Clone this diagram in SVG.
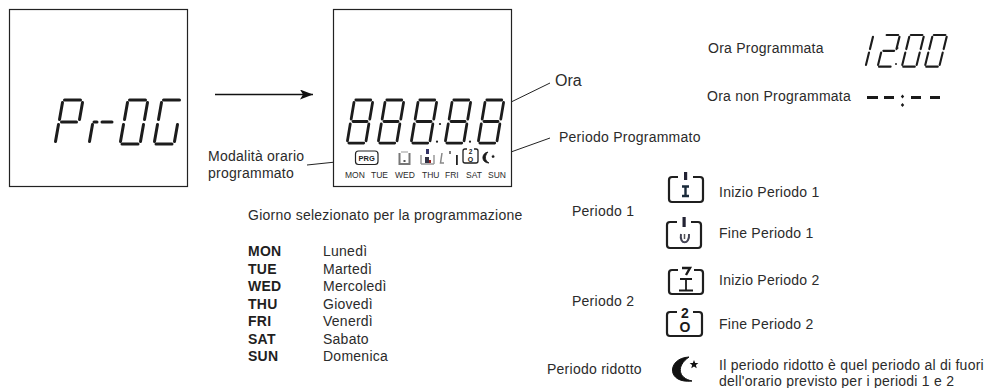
<svg xmlns="http://www.w3.org/2000/svg" width="987" height="388" viewBox="0 0 987 388">
<style>
text{font-family:"Liberation Sans",Arial,sans-serif;font-size:14px;letter-spacing:.25px;fill:#2b2b2b}
.b{font-weight:bold;fill:#1f1f1f}
.d{font-size:8.500px;letter-spacing:0}
.box{fill:#fff;stroke:#222;stroke-width:1.200}
.lead{fill:none;stroke:#222;stroke-width:1}
.s{stroke:#1c1c1c;stroke-width:3;stroke-linecap:round;fill:none}
.ic{fill:none;stroke:#1f1f1f;stroke-width:2.200;stroke-linejoin:round}
.g{font-weight:bold;fill:#1a1a1a;text-anchor:middle;letter-spacing:0}
</style>
<defs>
<path id="a" class="s" d="M9.500 0H25.500"/><path id="b" class="s" d="M27.500 2.500L24.500 19.500"/>
<path id="c" class="s" d="M23.500 24.500L20.500 41.500"/><path id="e" class="s" d="M.5 41.500L3.500 24.500"/>
<path id="f" class="s" d="M4.500 19.500L7.500 2.500"/><path id="g" class="s" d="M6.500 22H21.500"/>
<path id="h" class="s" d="M2 44H18"/>
<g id="d8"><use href="#a"/><use href="#b"/><use href="#c"/><use href="#e"/><use href="#f"/><use href="#g"/><use href="#h"/></g>
<g id="d0"><use href="#a"/><use href="#b"/><use href="#c"/><use href="#e"/><use href="#f"/><use href="#h"/></g>
<marker id="arr" markerWidth="14" markerHeight="10" refX="13" refY="5" orient="auto" markerUnits="userSpaceOnUse"><path d="M0 0L13 5L0 10L3 5Z" fill="#111"/></marker>
</defs>
<g id="connectors">
<path d="M215 94.500H313" fill="none" stroke="#111" stroke-width="1.300" marker-end="url(#arr)"/>
<path class="lead" d="M307 165L355 160"/>
<path class="lead" d="M505 105L550 83"/>
<path class="lead" d="M497 157L550 138"/>
</g>
<g id="display-prog">
<rect class="box" x="9.500" y="9.500" width="178" height="177"/>
<g transform="translate(55 100)"><use href="#a"/><use href="#b"/><use href="#e"/><use href="#f"/><use href="#g"/></g>
<g transform="translate(89 100)"><use href="#e"/><path class="s" d="M5 22H8M13 22H23"/></g>
<use href="#d0" x="120" y="100"/>
<g transform="translate(154 100)"><use href="#a"/><use href="#c"/><use href="#e"/><use href="#f"/><use href="#h"/></g>
</g>
<g id="display-full">
<rect class="box" x="333.500" y="9.500" width="178" height="177"/>
<use href="#d8" transform="matrix(.93 0 0 .98 347 100)"/><use href="#d8" transform="matrix(.93 0 0 .98 378 100)"/><use href="#d8" transform="matrix(.93 0 0 .98 411 100)"/><use href="#d8" transform="matrix(.93 0 0 .98 445 100)"/><use href="#d8" transform="matrix(.93 0 0 .98 478 100)"/>
<circle cx="440" cy="124" r="1.100" fill="#1a1a1a"/><circle cx="437" cy="141.700" r="1.100" fill="#1a1a1a"/><circle cx="470" cy="141.700" r="1.100" fill="#1a1a1a"/>
<rect x="355.500" y="151" width="22.500" height="13.500" rx="3" fill="#fff" stroke="#222" stroke-width="1.200"/>
<text x="366.700" y="161" text-anchor="middle" style="font-size:7.500px;font-weight:bold;letter-spacing:0;fill:#222">PRG</text>
<path d="M399.500 153V164H409.500V153" fill="none" stroke="#777" stroke-width="2"/><path d="M401 152H408" stroke="#ccc" stroke-width="2"/><rect x="403.500" y="160" width="2" height="2" fill="#555"/>
<path d="M421 155V164M434 155V164M421 164H434" fill="none" stroke="#999" stroke-width="1.500"/><rect x="426" y="149" width="3" height="5" fill="#336"/><rect x="425" y="157" width="4" height="6" fill="#334"/><rect x="429" y="160" width="2" height="3" fill="#922"/>
<path d="M442 153L440.500 163H444" fill="none" stroke="#888" stroke-width="1.500"/><rect x="449" y="151" width="2" height="3" fill="#777"/><rect x="456" y="155" width="1.800" height="10" fill="#222"/>
<path class="ic" style="stroke-width:1.300" d="M467 149H465C463 149 463 150 463 151V161C463 162 463 163 465 163H476C478 163 478 162 478 161V151C478 150 478 149 476 149H474"/>
<text x="470.500" y="153.500" class="g" style="font-size:6.500px">2</text><text x="470.500" y="161.500" class="g" style="font-size:7px">O</text>
<path d="M488 152C481 153 481 163 489 163C485 161 484 156 488 152Z" fill="#1a1a1a" stroke="#1a1a1a" stroke-width=".8"/><path d="M493 154.500l.8 1.200 1.200.3-.9.800.1 1.200-1.200-.6-1.100.6.2-1.200-.9-.8 1.200-.3Z" fill="#1a1a1a"/>
<text class="d" x="345" y="178">MON</text><text class="d" x="371" y="178">TUE</text><text class="d" x="395" y="178">WED</text><text class="d" x="422" y="178">THU</text><text class="d" x="445" y="178">FRI</text><text class="d" x="466" y="178">SAT</text><text class="d" x="488" y="178">SUN</text>
</g>
<g id="label-modalita"><text x="208" y="161">Modalità orario</text><text x="208" y="178">programmato</text></g>
<text id="label-ora" x="555" y="86" style="font-size:16px;letter-spacing:0">Ora</text>
<text id="label-periodo-programmato" x="559" y="142">Periodo Programmato</text>
<text id="label-giorno" x="248" y="220">Giorno selezionato per la programmazione</text>
<g id="days">
<text class="b" x="248" y="256">MON</text><text x="323" y="256">Lunedì</text>
<text class="b" x="248" y="273.500">TUE</text><text x="323" y="273.500">Martedì</text>
<text class="b" x="248" y="291">WED</text><text x="323" y="291">Mercoledì</text>
<text class="b" x="248" y="309">THU</text><text x="323" y="309">Giovedì</text>
<text class="b" x="248" y="326">FRI</text><text x="323" y="326">Venerdì</text>
<text class="b" x="248" y="344">SAT</text><text x="323" y="344">Sabato</text>
<text class="b" x="248" y="361">SUN</text><text x="323" y="361">Domenica</text>
</g>
<g id="ora-programmata">
<text x="708" y="52.500">Ora Programmata</text>
<g transform="matrix(.72 0 -.05 .72 853.300 35)"><use href="#b"/><use href="#c"/></g>
<g transform="matrix(.72 0 -.05 .72 879.800 35)"><use href="#a"/><use href="#b"/><use href="#e"/><use href="#g"/><use href="#h"/></g>
<circle cx="897.500" cy="48" r="1" fill="#222"/><circle cx="896" cy="64" r="1" fill="#222"/>
<use href="#d0" transform="matrix(.72 0 -.05 .72 904 35)"/>
<use href="#d0" transform="matrix(.72 0 -.05 .72 927 35)"/>
</g>
<g id="ora-non-programmata">
<text x="707" y="100.500">Ora non Programmata</text>
<path d="M867 97.500H878M884 97.500H894M911 97.500H921M930 97.500H940" fill="none" stroke="#1a1a1a" stroke-width="2.800"/>
<path d="M902.500 94.500l1.700 2-1.700 2-1.700-2ZM902.500 103l1.700 2-1.700 2-1.700-2Z" fill="#1a1a1a"/>
</g>
<g id="icon-inizio-1">
<path class="ic" d="M678 177H672Q669 177 669 180V199Q669 202 672 202H700Q703 202 703 199V180Q703 177 700 177H693"/>
<rect x="684" y="172" width="3.200" height="8" fill="#223"/><path d="M682 186.500H689M685.500 186.500V196M682 196H689" fill="none" stroke="#1a2a3a" stroke-width="2.400"/>
<text x="719" y="197">Inizio Periodo 1</text>
</g>
<g id="icon-fine-1">
<path class="ic" d="M677 222H670Q667 222 667 225V245Q667 248 670 248H698Q701 248 701 245V225Q701 222 698 222H691"/>
<rect x="682.500" y="217" width="3.200" height="10" fill="#223"/><path d="M681 234C679 245 690 245 689 234" fill="none" stroke="#445" stroke-width="2"/><path d="M684.500 234V239" stroke="#555" stroke-width="1.500"/>
<text x="719" y="238">Fine Periodo 1</text>
</g>
<g id="icon-inizio-2">
<path class="ic" d="M678 270H672Q669 270 669 273V291Q669 294 672 294H700Q703 294 703 291V273Q703 270 700 270H694"/>
<path d="M682 268H690L686 275" fill="none" stroke="#1a1a1a" stroke-width="2.400"/>
<path d="M680 279H692M686 279V290.500M679 290.500H693" fill="none" stroke="#1a1a1a" stroke-width="1.800"/>
<text x="719" y="285">Inizio Periodo 2</text>
</g>
<g id="icon-fine-2">
<path class="ic" d="M677 312H670Q667 312 667 315V333Q667 336 670 336H699Q702 336 702 333V315Q702 312 699 312H693"/>
<text x="685" y="317.500" class="g" style="font-size:14px">2</text><text x="685" y="332" class="g" style="font-size:14px">O</text>
<text x="719" y="329">Fine Periodo 2</text>
</g>
<g id="icon-ridotto">
<path d="M689 357C667 358 666 384 692 381C678 378 676 366 689 357Z" fill="#111" stroke="#111" stroke-width="1"/>
<path d="M694 360l1.200 2.900 3.200.2-2.500 2 .8 3.100-2.700-1.700-2.700 1.700.8-3.100-2.500-2 3.200-.2Z" fill="#111"/>
<text x="719" y="370">Il periodo ridotto è quel periodo al di fuori</text><text x="719" y="386">dell'orario previsto per i periodi 1 e 2</text>
</g>
<text id="label-periodo-1" x="572" y="216">Periodo 1</text>
<text id="label-periodo-2" x="572" y="306">Periodo 2</text>
<text id="label-periodo-ridotto" x="547" y="374">Periodo ridotto</text>
</svg>
